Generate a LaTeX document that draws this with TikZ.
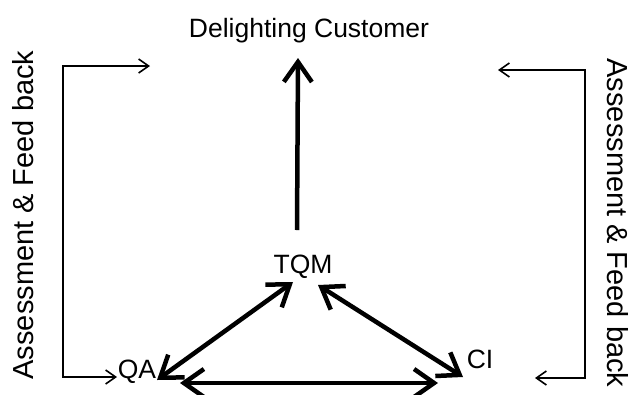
\documentclass[tikz,border=0pt]{standalone}
\usepackage{fontspec}
\setmainfont{Liberation Sans}
\usetikzlibrary{arrows.meta,positioning}
\tikzset{
  lbl/.style={inner sep=0pt, anchor=base, font=\fontsize{26.5}{30}\selectfont},
  fbtext/.style={inner sep=0pt, anchor=base, font=\fontsize{29}{32}\selectfont},
  bigarrow/.style={line width=4.5pt, -{Straight Barb[length=20pt,width=28pt]}},
  bigboth/.style={line width=4.5pt, {Straight Barb[length=20pt,width=28pt]}-{Straight Barb[length=20pt,width=28pt]}},
  fbarrow/.style={line width=1.6pt, {Straight Barb[length=10pt,width=14pt]}-{Straight Barb[length=10pt,width=14pt]}},
}
\begin{document}
\begin{tikzpicture}[x=1pt,y=-1pt]
\useasboundingbox (0,0) rectangle (636,394);
% labels
\node[lbl] (delight) at (309,37) {Delighting Customer};
\node[lbl] (tqm) at (303,273) {TQM};
\node[lbl] (qa) at (137,378) {QA};
\node[lbl] (ci) at (480,368) {CI};
\node[fbtext,rotate=90] (fbleft) at (33,215) {Assessment \& Feed back};
\node[fbtext,rotate=-90] (fbright) at (607,223) {Assessment \& Feed back};
% arrow ends
\coordinate (tqm up) at (297,230);
\coordinate (delight in) at (298,58);
\coordinate (tqm l) at (293,282);
\coordinate (tqm r) at (318,285);
\coordinate (qa r) at (157,380);
\coordinate (qa b) at (180,383);
\coordinate (ci l) at (463,377);
\coordinate (ci b) at (438,383);
% main arrows
\draw[bigarrow] (tqm up) -- (delight in);
\draw[bigboth] (qa r) -- (tqm l);
\draw[bigboth] (tqm r) -- (ci l);
\draw[bigboth] (qa b) -- (ci b);
% feed back loops
\draw[fbarrow] (150,66) -- (63,66) -- (63,377) -- (117,377);
\draw[fbarrow] (498,70) -- (585,70) -- (585,378) -- (535,378);
\end{tikzpicture}
\end{document}
